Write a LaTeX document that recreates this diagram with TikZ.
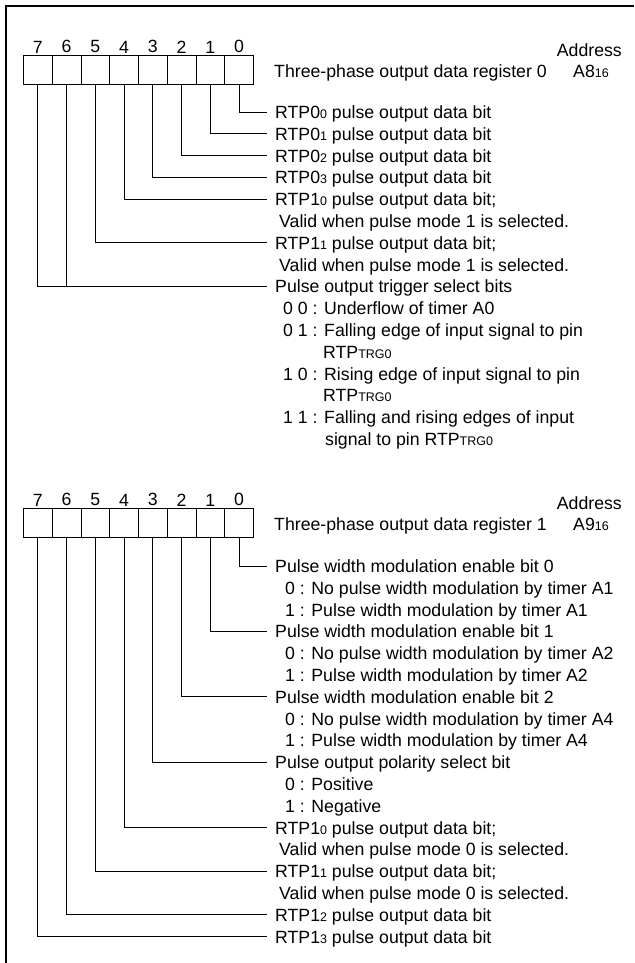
\documentclass[tikz,border=0pt]{standalone}
\usepackage{fontspec}
\setmainfont{Liberation Sans}
\usetikzlibrary{positioning}
\newcommand{\regfont}{\fontsize{17.7pt}{21.8pt}\selectfont}
\newcommand{\lo}[1]{{\fontsize{12.5pt}{14pt}\selectfont #1}}

\begin{document}
\begin{tikzpicture}[
    x=1pt, y=-1pt,
    bitcell/.style={rectangle, draw, line width=0.9pt, minimum width=28.75pt, minimum height=29pt, inner sep=0pt, anchor=north west},
    bitnum/.style={inner sep=0pt, font=\regfont},
    txt/.style={anchor=west, inner sep=0pt, text height=13pt, text depth=0pt, font=\regfont},
    item/.style={txt, inner xsep=8pt},
    leader/.style={line width=0.8pt},
]
\useasboundingbox (0,0) rectangle (634,963);
\draw[line width=2.5pt] (6,963) -- (6,6) -- (634,6);

% register 0
\foreach \i in {0,...,7} {
  \node[bitcell] (a\i) at ({23+(7-\i)*28.75},55) {};
  \node[bitnum, above=1.7pt of a\i.north] (na\i) {\i};
}
\node[txt, anchor=east] (adra) at (622,50) {Address};
\node[txt] (rega) at (274,71) {Three-phase output data register 0};
\node[txt] (addra) at (573,71) {A8\lo{16}};

\node[item] (a0t) at (267,112) {RTP0\lo{0} pulse output data bit};
\node[item] (a1t) at (267,133.8) {RTP0\lo{1} pulse output data bit};
\node[item] (a2t) at (267,155.6) {RTP0\lo{2} pulse output data bit};
\node[item] (a3t) at (267,177.4) {RTP0\lo{3} pulse output data bit};
\node[item] (a4t) at (267,199.2) {RTP1\lo{0} pulse output data bit;};
\node[txt] (a4v) at (279,221) {Valid when pulse mode 1 is selected.};
\node[item] (a5t) at (267,242.8) {RTP1\lo{1} pulse output data bit;};
\node[txt] (a5v) at (279,264.6) {Valid when pulse mode 1 is selected.};
\node[item] (a7t) at (267,286.4) {Pulse output trigger select bits};
\node[txt] (trg0) at (283,308.2) {0 0 : Underflow of timer A0};
\node[txt] (trg1) at (283,330) {0 1 : Falling edge of input signal to pin};
\node[txt] (trg1b) at (323,351.8) {RTP\lo{TRG0}};
\node[txt] (trg2) at (283,373.6) {1 0 : Rising edge of input signal to pin};
\node[txt] (trg2b) at (323,395.4) {RTP\lo{TRG0}};
\node[txt] (trg3) at (283,417.2) {1 1 : Falling and rising edges of input};
\node[txt] (trg3b) at (325,439) {signal to pin RTP\lo{TRG0}};

\draw[leader] (a0.south) |- (a0t.west);
\draw[leader] (a1.south) |- (a1t.west);
\draw[leader] (a2.south) |- (a2t.west);
\draw[leader] (a3.south) |- (a3t.west);
\draw[leader] (a4.south) |- (a4t.west);
\draw[leader] (a5.south) |- (a5t.west);
\draw[leader] (a7.south) |- (a7t.west);
\draw[leader] (a6.south) -- (a6.south |- a7t.west);

% register 1
\foreach \i in {0,...,7} {
  \node[bitcell] (b\i) at ({23+(7-\i)*28.75},508) {};
  \node[bitnum, above=1.7pt of b\i.north] (nb\i) {\i};
}
\node[txt, anchor=east] (adrb) at (622,503) {Address};
\node[txt] (regb) at (274,524) {Three-phase output data register 1};
\node[txt] (addrb) at (573,524) {A9\lo{16}};

\node[item] (b0t) at (267,566) {Pulse width modulation enable bit 0};
\node[txt] (b0n) at (285,587.8) {0 : No pulse width modulation by timer A1};
\node[txt] (b0y) at (285,609.6) {1 : Pulse width modulation by timer A1};
\node[item] (b1t) at (267,631.4) {Pulse width modulation enable bit 1};
\node[txt] (b1n) at (285,653.2) {0 : No pulse width modulation by timer A2};
\node[txt] (b1y) at (285,675) {1 : Pulse width modulation by timer A2};
\node[item] (b2t) at (267,696.8) {Pulse width modulation enable bit 2};
\node[txt] (b2n) at (285,718.6) {0 : No pulse width modulation by timer A4};
\node[txt] (b2y) at (285,740.4) {1 : Pulse width modulation by timer A4};
\node[item] (b3t) at (267,762.2) {Pulse output polarity select bit};
\node[txt] (b3n) at (285,784) {0 : Positive};
\node[txt] (b3y) at (285,805.8) {1 : Negative};
\node[item] (b4t) at (267,827.6) {RTP1\lo{0} pulse output data bit;};
\node[txt] (b4v) at (279,849.4) {Valid when pulse mode 0 is selected.};
\node[item] (b5t) at (267,871.2) {RTP1\lo{1} pulse output data bit;};
\node[txt] (b5v) at (279,893) {Valid when pulse mode 0 is selected.};
\node[item] (b6t) at (267,914.8) {RTP1\lo{2} pulse output data bit};
\node[item] (b7t) at (267,936.6) {RTP1\lo{3} pulse output data bit};

\foreach \i in {0,...,7}
  \draw[leader] (b\i.south) |- (b\i t.west);
\end{tikzpicture}
\end{document}
